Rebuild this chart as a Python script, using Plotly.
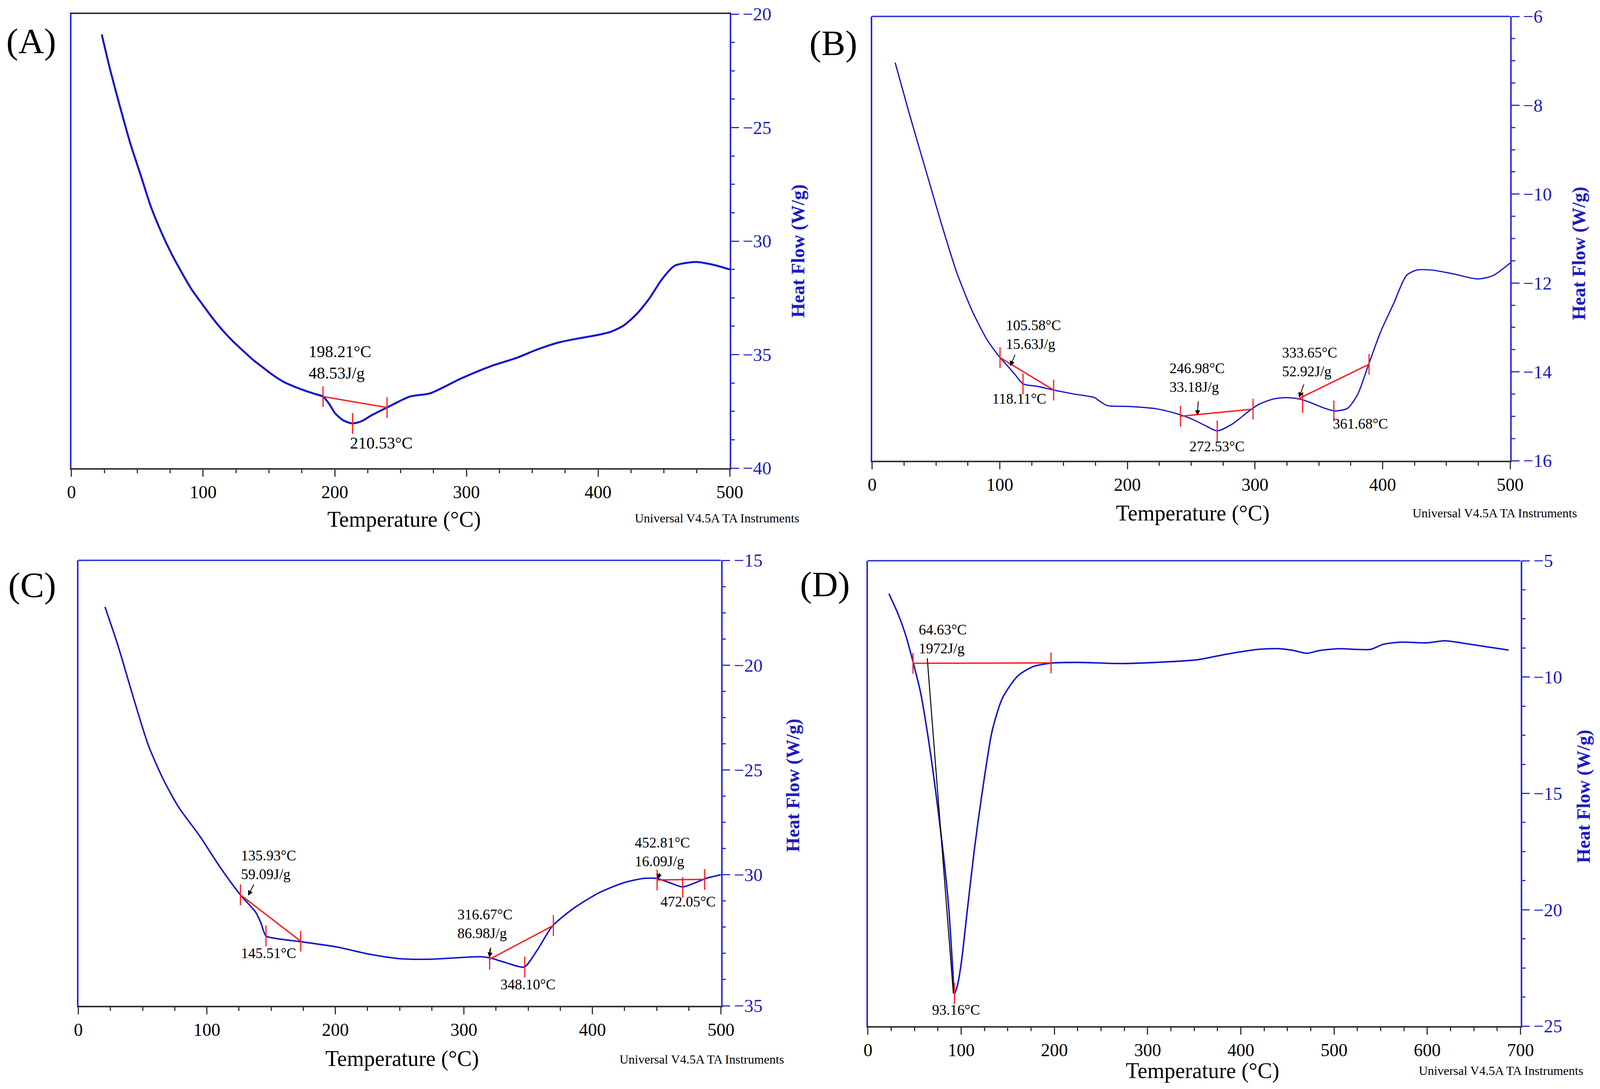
import plotly.graph_objects as go

W, H = 4190, 2787
M = 8  # default body margin of the html page
FW, FH = W - 2 * M, H - 2 * M
def px(x): return (x - M) / FW
def py(y): return 1 - (y - M) / FH

# ---------------- data ----------------
A_temp = [23, 29.2, 35.5, 44.8, 52.6, 60.3, 68.1, 75.9, 83.7, 91.4, 100, 107, 114.8, 122.6, 130.3, 138.1,
          145.9, 153.7, 161.4, 169.2, 177, 184.8, 191.1, 195.7, 200.3, 206.5, 213.5, 220.5, 228.3, 239.7,
          257, 272.7, 296, 319, 338.8, 351.8, 361.4, 371.2, 385.7, 400.2, 409.8, 419.4, 429.2, 438.8,
          448.4, 458, 474.5, 488, 500]
A_heat = [-20.9, -22.41, -23.79, -25.72, -27.1, -28.48, -29.59, -30.55, -31.38, -32.14, -32.83, -33.38,
          -33.93, -34.41, -34.83, -35.24, -35.59, -35.93, -36.21, -36.41, -36.58, -36.73, -36.85, -37.17,
          -37.59, -37.9, -38.03, -37.93, -37.66, -37.33, -36.85, -36.70, -36.05, -35.5, -35.13, -34.82,
          -34.62, -34.45, -34.28, -34.13, -33.99, -33.72, -33.22, -32.54, -31.69, -31.09, -30.92, -31.05,
          -31.25]

B_temp = [18, 30, 42, 54.1, 66.1, 78.1, 90.1, 100.2, 106.2, 112.2, 118.2, 130.2, 142.2, 158.3, 174.3,
          178.3, 184.3, 202.3, 222.4, 238.4, 250.4, 262.4, 270.4, 282.5, 294.5, 302.5, 314.5, 324.5,
          334.5, 342.5, 354.6, 362.6, 372.6, 380.6, 388.6, 398.6, 408.7, 418.7, 426.7, 438.7, 454.7,
          474.7, 486.8, 500]
B_heat = [-7.04, -8.28, -9.46, -10.65, -11.75, -12.61, -13.28, -13.68, -13.87, -14.07, -14.27, -14.33,
          -14.41, -14.50, -14.58, -14.66, -14.76, -14.78, -14.83, -14.94, -15.06, -15.23, -15.33, -15.17,
          -14.90, -14.74, -14.61, -14.58, -14.61, -14.68, -14.82, -14.88, -14.82, -14.50, -13.87, -13.09,
          -12.46, -11.83, -11.71, -11.71, -11.79, -11.91, -11.83, -11.55]

C_temp = [20.7, 30.6, 42.6, 54.5, 66.4, 78.4, 94.3, 110.2, 126.1, 138, 142, 146, 154, 173.8, 201.7,
          225.5, 249.4, 273.3, 297.1, 313, 321, 333, 346.9, 356.8, 368.8, 384.7, 404.5, 424.4, 440.3,
          450.3, 460.2, 470.2, 480.1, 488.1, 500]
C_heat = [-17.22, -19.02, -21.5, -23.83, -25.49, -26.81, -28.14, -29.63, -30.96, -31.79, -32.29, -32.92,
          -33.04, -33.2, -33.45, -33.78, -34.0, -34.03, -33.95, -33.91, -33.98, -34.2, -34.4, -33.62,
          -32.45, -31.63, -30.88, -30.38, -30.17, -30.18, -30.38, -30.58, -30.38, -30.18, -30.0]

D_temp = [22.5, 31.8, 40, 48.3, 56.5, 64.7, 73, 81.2, 86.7, 91.1, 92.8, 96, 100.4, 105.9, 114.1, 122.3,
          133.3, 144.3, 160.7, 177.2, 196.4, 226.5, 270.4, 308.8, 352.7, 385.6, 418.5, 440.5, 456.9,
          470.6, 484.4, 506.3, 522.8, 539.3, 553, 572.2, 599.6, 618.8, 638, 665.4, 687.3]
D_heat = [-6.42, -7.24, -8.14, -9.34, -10.68, -12.63, -15.02, -17.71, -19.96, -22.65, -23.6, -23.25,
          -22.2, -20.26, -17.42, -15.02, -12.3, -10.9, -9.95, -9.55, -9.40, -9.37, -9.42, -9.37, -9.26,
          -9.01, -8.81, -8.78, -8.86, -8.98, -8.86, -8.78, -8.81, -8.81, -8.59, -8.5, -8.53, -8.44, -8.54,
          -8.71, -8.84]

# integration baselines and marker ticks
A_base = [([191.1, 239.7], [-36.85, -37.33])]
A_marks = ([191.1, 239.7, 213.5], [-36.85, -37.33, -38.03])
B_base = [([100.2, 142.2], [-13.68, -14.41]), ([241.6, 298.5], [-15.0, -14.84]),
          ([333.0, 389.4], [-14.62, -13.83])]
B_marks = ([100.2, 118.2, 142.2, 241.6, 270.4, 298.5, 337.3, 361.8, 389.4],
           [-13.68, -14.27, -14.41, -15.0, -15.33, -14.84, -14.69, -14.88, -13.83])
C_base = [([126.1, 173.0], [-30.96, -33.17]), ([320.0, 369.6], [-34.03, -32.42]),
          ([450.3, 487.3], [-30.25, -30.22])]
C_marks = ([126.1, 146.0, 173.0, 320.0, 347.3, 369.6, 450.3, 470.2, 487.3],
           [-30.96, -32.92, -33.17, -34.03, -34.4, -32.42, -30.25, -30.6, -30.22])
D_base = [([48.3, 196.4], [-9.41, -9.39])]
D_marks = ([48.3, 196.4, 92.8], [-9.41, -9.39, -23.6])
D_black = ([63.6, 91.6], [-9.19, -23.6])

# text labels: (text, temp, heat)
A_labels = [("198.21°C<br>48.53J/g", 179.5, -35.35), ("210.53°C", 211, -38.9)]
B_labels = [("105.58°C<br>15.63J/g", 104.1, -13.16), ("118.11°C", 93.4, -14.61),
            ("246.98°C<br>33.18J/g", 232.5, -14.13), ("272.53°C", 248.0, -15.68),
            ("333.65°C<br>52.92J/g", 320.5, -13.78), ("361.68°C", 360.4, -15.17)]
C_labels = [("135.93°C<br>59.09J/g", 126.1, -29.53), ("145.51°C", 126.1, -33.75),
            ("316.67°C<br>86.98J/g", 294.3, -32.34), ("348.10°C", 327.8, -35.24),
            ("452.81°C<br>16.09J/g", 432.4, -28.92), ("472.05°C", 452.3, -31.29)]
D_labels = [("64.63°C<br>1972J/g", 53.8, -8.37), ("93.16°C", 68.0, -24.3)]

# arrows: (head temp, head heat, tail temp, tail heat)
B_arrows = [(108.2, -13.87, 112.2, -13.6), (254.8, -14.98, 255.6, -14.65), (334.5, -14.58, 338.5, -14.27)]
C_arrows = [(132.1, -31.0, 136.8, -30.43), (319.8, -33.95, 321.0, -33.45), (451.1, -30.21, 452.3, -29.88)]

x_ticks_500 = [0, 100, 200, 300, 400, 500]
x_ticks_700 = [0, 100, 200, 300, 400, 500, 600, 700]
A_yticks = [-20, -25, -30, -35, -40]
B_yticks = [-6, -8, -10, -12, -14, -16]
C_yticks = [-15, -20, -25, -30, -36.25]
C_yticktext = ["−15", "−20", "−25", "−30", "−35"]
D_yticks = [-5, -10, -15, -20, -25]

# ---------------- styling ----------------
FONT = "Liberation Serif"
CURVE = "#1414cc"
AXBLUE = "#2a2ad6"
TXTBLUE = "#1c1cc0"
DARK = "#333333"
RED = "#ff1a1a"

panels = [
    dict(key="", temp=A_temp, heat=A_heat, base=A_base, marks=A_marks, labels=A_labels, arrows=[],
         xdom=[px(187), px(1911)], ydom=[py(1198), py(36)], xr=[0, 500], yr=[-40, -20], xt=x_ticks_500,
         yt=A_yticks, ytt=None, minor_y=1.25, topdark=True, lfs=42, tag="(A)", tagxy=(82, 105),
         ytitle=(2090, 643), xtitle=(1058, 1329), credit=(2095, 1326), lw=5),
    dict(key="2", temp=B_temp, heat=B_heat, base=B_base, marks=B_marks, labels=B_labels, arrows=B_arrows,
         xdom=[px(2284), px(3955)], ydom=[py(1179), py(42)], xr=[0, 500], yr=[-16, -6], xt=x_ticks_500,
         yt=B_yticks, ytt=None, minor_y=0.5, topdark=False, lfs=37, tag="(B)", tagxy=(2182, 110),
         ytitle=(4135, 649), xtitle=(3124, 1313), credit=(4132, 1313), lw=3.2),
    dict(key="3", temp=C_temp, heat=C_heat, base=C_base, marks=C_marks, labels=C_labels, arrows=C_arrows,
         xdom=[px(205), px(1888)], ydom=[py(2574), py(1434)], xr=[0, 500], yr=[-36.25, -15], xt=x_ticks_500,
         yt=C_yticks, ytt=C_yticktext, minor_y=1.25, topdark=False, lfs=37, tag="(C)", tagxy=(84, 1497),
         ytitle=(2077, 2010), xtitle=(1053, 2709), credit=(2055, 2711), lw=3.8),
    dict(key="4", temp=D_temp, heat=D_heat, base=D_base, marks=D_marks, labels=D_labels, arrows=[],
         xdom=[px(2273), px(3982)], ydom=[py(2626), py(1435)], xr=[0, 700], yr=[-25, -5], xt=x_ticks_700,
         yt=D_yticks, ytt=None, minor_y=1.25, topdark=False, lfs=37, tag="(D)", tagxy=(2160, 1495),
         ytitle=(4147, 2038), xtitle=(3149, 2740), credit=(4148, 2740), lw=3.8),
]

fig = go.Figure()
layout = dict(autosize=True, margin=dict(l=0, r=0, t=0, b=0, autoexpand=False), paper_bgcolor="white",
              plot_bgcolor="white", showlegend=False, font=dict(family=FONT, color="black"))
annotations = []
shapes = []

for p in panels:
    k = p["key"]
    xa, ya = "x" + k, "y" + k
    fig.add_trace(go.Scatter(x=p["temp"], y=p["heat"], mode="lines", xaxis=xa, yaxis=ya,
                             line=dict(color=CURVE, width=p["lw"], shape="spline", smoothing=0.7),
                             hoverinfo="skip"))
    for bx, by in p["base"]:
        fig.add_trace(go.Scatter(x=bx, y=by, mode="lines", xaxis=xa, yaxis=ya,
                                 line=dict(color=RED, width=3.5), hoverinfo="skip"))
    mx, my = p["marks"]
    fig.add_trace(go.Scatter(x=mx, y=my, mode="markers", xaxis=xa, yaxis=ya,
                             marker=dict(symbol="line-ns", size=38, color=RED,
                                         line=dict(color=RED, width=3)), hoverinfo="skip"))
    if k == "4":
        fig.add_trace(go.Scatter(x=D_black[0], y=D_black[1], mode="lines", xaxis=xa, yaxis=ya,
                                 line=dict(color="black", width=2.5), hoverinfo="skip"))

    layout["xaxis" + k] = dict(domain=p["xdom"], range=p["xr"], anchor=ya, tickmode="array",
                               tickvals=p["xt"], ticks="outside", ticklen=18, tickwidth=3, tickcolor=DARK,
                               showline=True, linecolor=DARK, linewidth=4, mirror=p["topdark"],
                               showgrid=False, zeroline=False, automargin=False,
                               tickfont=dict(family=FONT, size=46, color="black"),
                               minor=dict(ticks="outside", dtick=25, tick0=0, ticklen=9, tickwidth=3,
                                          tickcolor=DARK, showgrid=False))
    if p["ytt"] is None:
        ytick = dict(tickmode="array", tickvals=p["yt"])
    else:
        ytick = dict(tickmode="array", tickvals=p["yt"], ticktext=p["ytt"])
    minor_vals = []
    v = p["yr"][1]
    while v >= p["yr"][0] - 1e-9:
        minor_vals.append(round(v, 4))
        v -= p["minor_y"]
    layout["yaxis" + k] = dict(domain=p["ydom"], range=p["yr"], anchor=xa, side="right",
                               ticks="outside", ticklen=20, tickwidth=3, tickcolor=AXBLUE,
                               showline=True, linecolor=AXBLUE, linewidth=3.5, mirror=True,
                               showgrid=False, zeroline=False, automargin=False,
                               tickfont=dict(family=FONT, size=47, color=TXTBLUE),
                               minor=dict(ticks="outside", tickmode="array", tickvals=minor_vals,
                                          ticklen=9, tickwidth=3, tickcolor=AXBLUE, showgrid=False),
                               **ytick)
    if not p["topdark"]:
        shapes.append(dict(type="line", xref=xa + " domain", yref=ya + " domain", x0=0, x1=1, y0=1, y1=1,
                           line=dict(color=AXBLUE, width=3.5)))

    for txt, tx, ty in p["labels"]:
        annotations.append(dict(text=txt, x=tx, y=ty, xref=xa, yref=ya, showarrow=False,
                                xanchor="left", yanchor="middle", align="left",
                                font=dict(family=FONT, size=p["lfs"], color="black")))
    for hx, hy, tx, ty in p["arrows"]:
        annotations.append(dict(text="", x=hx, y=hy, ax=tx, ay=ty, xref=xa, yref=ya, axref=xa, ayref=ya,
                                showarrow=True, arrowhead=2, arrowsize=1.3, arrowwidth=2,
                                arrowcolor="black"))
    annotations.append(dict(text=p["tag"], x=px(p["tagxy"][0]), y=py(p["tagxy"][1]), xref="paper",
                            yref="paper", showarrow=False, xanchor="center", yanchor="middle",
                            font=dict(family=FONT, size=92, color="black")))
    annotations.append(dict(text="Heat Flow (W/g)", x=px(p["ytitle"][0]), y=py(p["ytitle"][1]),
                            xref="paper", yref="paper", showarrow=False, textangle=-90,
                            xanchor="center", yanchor="middle",
                            font=dict(family=FONT, size=48, color=TXTBLUE, weight="bold")))
    annotations.append(dict(text="Temperature (°C)", x=px(p["xtitle"][0]), y=py(p["xtitle"][1]),
                            xref="paper", yref="paper", showarrow=False, xanchor="center",
                            yanchor="middle", font=dict(family=FONT, size=56, color="black")))
    annotations.append(dict(text="Universal V4.5A TA Instruments", x=px(p["credit"][0]),
                            y=py(p["credit"][1]), xref="paper", yref="paper", showarrow=False,
                            xanchor="right", yanchor="middle",
                            font=dict(family=FONT, size=32, color="black")))

layout["annotations"] = annotations
layout["shapes"] = shapes
fig.update_layout(**layout)
fig.write_html("out.html", default_width="calc(100vw - 16px)", default_height="calc(100vh - 16px)")
